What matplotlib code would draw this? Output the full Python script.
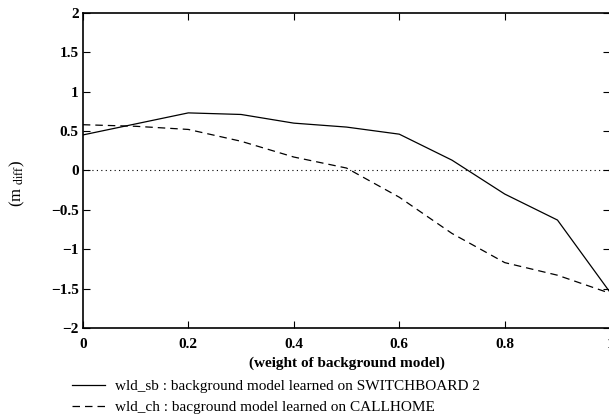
import matplotlib
matplotlib.use('Agg')
import matplotlib.pyplot as plt
import numpy as np

plt.rcParams['font.family'] = ['Liberation Serif', 'DejaVu Serif']
plt.rcParams['mathtext.fontset'] = 'stix'

# data
weights = [0.0, 0.1, 0.2, 0.3, 0.4, 0.5, 0.6, 0.7, 0.8, 0.9, 1.0]
wld_sb = [0.45, 0.59, 0.73, 0.71, 0.60, 0.55, 0.46, 0.13, -0.30, -0.63, -1.55]
wld_ch = [0.58, 0.56, 0.52, 0.37, 0.17, 0.03, -0.34, -0.80, -1.17, -1.33, -1.56]
x_ticks = [0, 0.2, 0.4, 0.6, 0.8, 1]
x_ticklabels = ['0', '0.2', '0.4', '0.6', '0.8', '1']
y_ticks = [-2, -1.5, -1, -0.5, 0, 0.5, 1, 1.5, 2]
y_ticklabels = ['\u22122', '\u22121.5', '\u22121', '\u22120.5', '0', '0.5', '1', '1.5', '2']

fig = plt.figure(figsize=(6.09, 4.16), dpi=100)
ax = fig.add_axes([0.136, 0.2115, 0.866, 0.7577])

l1, = ax.plot(weights, wld_sb, color='black', linestyle='-', linewidth=0.9)
l2, = ax.plot(weights, wld_ch, color='black', linestyle=(0, (6, 4)), linewidth=0.9)
ax.axhline(0, color='black', linestyle=(0, (1, 3)), linewidth=0.8)

ax.set_xlim(0, 1)
ax.set_ylim(-2, 2)
ax.set_xticks(x_ticks)
ax.set_xticklabels(x_ticklabels, fontsize=11, fontweight='bold')
ax.set_yticks(y_ticks)
ax.set_yticklabels(y_ticklabels, fontsize=11, fontweight='bold')
ax.tick_params(direction='in', length=5, width=0.8, top=True, right=True)
ax.tick_params(axis='x', pad=7)
ax.tick_params(axis='y', pad=3)
for s in ax.spines.values():
    s.set_linewidth(1.2)

ax.set_xlabel('(weight of background model)', fontsize=11, fontweight='bold', labelpad=4)
ax.set_ylabel(r'(m $_{\mathrm{diff}}$)', fontsize=12)
ax.yaxis.set_label_coords(-0.105, 0.46)

fig.legend([l1, l2],
           ['wld_sb : background model learned on SWITCHBOARD 2',
            'wld_ch : bacground model learned on CALLHOME'],
           loc='upper left', bbox_to_anchor=(0.118, 0.088), frameon=False,
           fontsize=11, handlelength=2.2, handletextpad=0.65, labelspacing=0.5,
           borderpad=0, borderaxespad=0)

plt.savefig('out.png', dpi=100)
plt.close()
